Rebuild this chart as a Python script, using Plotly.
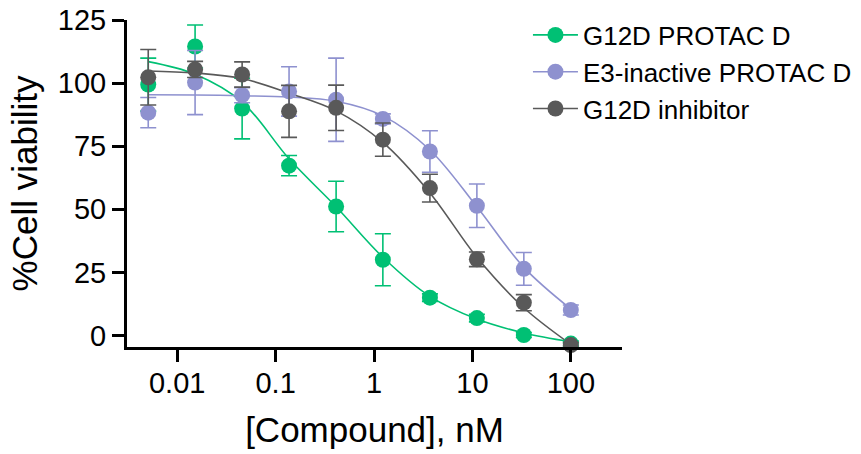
import plotly.graph_objects as go

conc = [0.00508, 0.0152, 0.0457, 0.137, 0.412, 1.23, 3.70, 11.1, 33.3, 100]

names = ["G12D PROTAC D", "E3-inactive PROTAC D", "G12D inhibitor"]
colors = ["#00C074", "#8E91CF", "#595959"]

green_y = [99.4, 114.5, 89.9, 67.3, 51.1, 30.0, 15.0, 6.9, 0.2, -3.2]
green_err = [10.5, 8.5, 12.0, 4.0, 10.0, 10.3, 1.5, 1.5, 1.0, 1.0]
purple_y = [88.3, 100.2, 95.2, 96.7, 93.4, 85.8, 72.9, 51.4, 26.4, 10.1]
purple_err = [6.0, 12.7, 3.0, 9.8, 16.5, 2.0, 8.2, 8.6, 6.5, 2.0]
grey_y = [102.3, 105.4, 103.4, 88.8, 90.2, 77.6, 58.4, 30.2, 13.0, -3.8]
grey_err = [11.0, 3.2, 5.0, 10.3, 9.0, 6.6, 5.5, 2.9, 3.2, 1.0]

# fitted curves at each concentration
green_fit = [108.5, 103.5, 92.5, 70.0, 51.0, 31.0, 15.5, 6.5, 1.0, -2.5]
purple_fit = [95.4, 95.3, 95.0, 94.5, 92.8, 87.0, 73.5, 51.0, 27.0, 10.5]
grey_fit = [104.8, 104.0, 101.8, 96.0, 89.0, 76.5, 56.5, 31.0, 11.0, -3.5]

y_ticks = [0, 25, 50, 75, 100, 125]
x_ticks = [0.01, 0.1, 1, 10, 100]
x_ticktext = ["0.01", "0.1", "1", "10", "100"]

series = [
    (green_y, green_err, green_fit),
    (purple_y, purple_err, purple_fit),
    (grey_y, grey_err, grey_fit),
]

fig = go.Figure()

for (vals, err, fit), c in zip(series, colors):
    fig.add_trace(go.Scatter(
        x=conc, y=fit, mode="lines", line=dict(color=c, width=1.6, shape="spline"),
        showlegend=False, hoverinfo="skip", cliponaxis=False))

for (vals, err, fit), c, n in zip(series, colors, names):
    fig.add_trace(go.Scatter(
        x=conc, y=vals, mode="markers",
        marker=dict(color=c, size=16),
        error_y=dict(type="data", array=err, visible=True, color=c, thickness=1.6, width=8),
        showlegend=False, cliponaxis=False))

for c, n in zip(colors, names):
    fig.add_trace(go.Scatter(
        x=[None], y=[None], mode="lines+markers", name=n,
        marker=dict(color=c, size=16), line=dict(color=c, width=1.6)))

font = "Liberation Sans, Arial, sans-serif"

fig.update_layout(
    width=861, height=454,
    margin=dict(l=127, r=239, t=20, b=107, autoexpand=False),
    plot_bgcolor="white", paper_bgcolor="white",
    font=dict(family=font, color="black"),
    legend=dict(x=0.81, xanchor="left", y=1.026, yanchor="top",
                font=dict(size=26, family=font), itemwidth=45,
                bgcolor="rgba(0,0,0,0)"),
    xaxis=dict(type="log", range=[-2.51, 2.52], tickvals=x_ticks, ticktext=x_ticktext,
               showline=True, linewidth=3, linecolor="black", ticks="outside",
               ticklen=12, tickwidth=3, tickcolor="black", showgrid=False, zeroline=False,
               tickfont=dict(size=29), ticklabelstandoff=-4,
               title=dict(text="[Compound], nM", font=dict(size=35), standoff=20)),
    yaxis=dict(range=[-4.56, 125], tickvals=y_ticks,
               showline=True, linewidth=3, linecolor="black", ticks="outside",
               ticklen=12, tickwidth=3, tickcolor="black", showgrid=False, zeroline=False,
               tickfont=dict(size=29),
               title=dict(text="%Cell viability", font=dict(size=35), standoff=10)),
)

fig.write_html("out.html", config={"displayModeBar": False},
               post_script="document.body.style.margin='0';")
